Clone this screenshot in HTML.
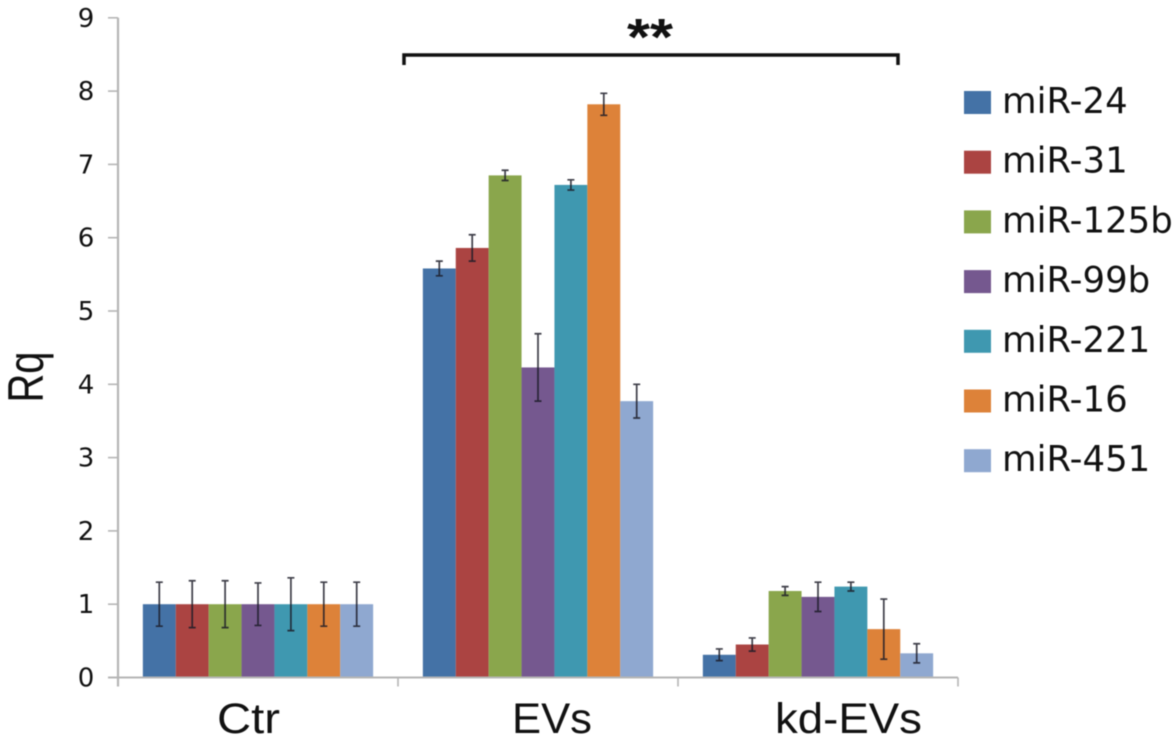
<!DOCTYPE html>
<html>
<head>
<meta charset="utf-8">
<style>
html,body{margin:0;padding:0;background:#fff;width:1173px;height:746px;overflow:hidden}
svg{display:block;position:absolute;left:0;top:0;filter:blur(0.4px)}
text{font-family:"Liberation Sans",sans-serif;fill:#111}
</style>
</head>
<body>
<svg id="chart" width="1173" height="746" viewBox="0 0 1173 746" xmlns="http://www.w3.org/2000/svg"></svg>
<script>
const categories = ['Ctr', 'EVs', 'kd-EVs'];
const seriesNames = ['miR-24', 'miR-31', 'miR-125b', 'miR-99b', 'miR-221', 'miR-16', 'miR-451'];
const seriesColors = ['#4472a6', '#ab4442', '#8aa64c', '#75588f', '#3f98b0', '#dd8239', '#8fa8d0'];
const yTicks = [0, 1, 2, 3, 4, 5, 6, 7, 8, 9];
const ctrValues = [1, 1, 1, 1, 1, 1, 1];
const evsValues = [5.58, 5.86, 6.85, 4.23, 6.72, 7.82, 3.77];
const kdValues = [0.31, 0.45, 1.18, 1.1, 1.24, 0.66, 0.33];
const ctrErrors = [0.3, 0.32, 0.32, 0.29, 0.36, 0.3, 0.3];
const evsErrors = [0.1, 0.18, 0.07, 0.46, 0.07, 0.15, 0.23];
const kdErrors = [0.08, 0.09, 0.06, 0.2, 0.06, 0.41, 0.13];

const groupValues = [ctrValues, evsValues, kdValues];
const groupErrors = [ctrErrors, evsErrors, kdErrors];
const NS = 'http://www.w3.org/2000/svg';
const svg = document.getElementById('chart');
const axisLeft = 118, axisRight = 958, y0 = 677.5, unit = 73.3, barW = 32.9;
const bandW = (axisRight - axisLeft) / categories.length;
function yPos(v) { return y0 - v * unit; }
function xBand(i) { return axisLeft + i * bandW; }
function xBar(g, s) { return xBand(g) + (bandW - barW * seriesNames.length) / 2 + s * barW; }
function make(tag, attrs, text) {
  const el = document.createElementNS(NS, tag);
  for (const k in attrs) el.setAttribute(k, attrs[k]);
  if (text !== undefined) el.textContent = text;
  svg.appendChild(el);
  return el;
}

groupValues.forEach(function (vals, g) {
  vals.forEach(function (v, s) {
    const bar = make('rect', { x: xBar(g, s), y: yPos(v), width: barW, height: y0 - yPos(v), fill: seriesColors[s] });
    
    
  });
});

const yAxis = make('line', { x1: axisLeft, x2: axisLeft, y1: yPos(9), y2: y0 + 9, stroke: '#b5b5b5', 'stroke-width': 2.2 });


const xAxis = make('line', { x1: axisLeft - 10, x2: axisRight, y1: y0, y2: y0, stroke: '#b5b5b5', 'stroke-width': 2 });



yTicks.forEach(function (t) {
  const tick = make('line', { x1: axisLeft - 10, x2: axisLeft, y1: yPos(t), y2: yPos(t), stroke: '#b5b5b5', 'stroke-width': 1.6 });
  
  
  const label = make('text', { x: 86, y: yPos(t) + 9, 'font-size': 26, 'text-anchor': 'middle', style: 'font-family:"DejaVu Sans",sans-serif' }, String(t));
  
  
});

for (let i = 1; i <= categories.length; i++) {
  const tick = make('line', { x1: xBand(i), x2: xBand(i), y1: y0, y2: y0 + 9, stroke: '#b5b5b5', 'stroke-width': 1.6 });
  
  
}

groupValues.forEach(function (vals, g) {
  vals.forEach(function (v, s) {
    const e = groupErrors[g][s];
    const cx = xBar(g, s) + barW / 2;
    const err = make('path', {
      d: 'M' + cx + ' ' + yPos(v + e) + 'V' + yPos(v - e) +
         'M' + (cx - 3.5) + ' ' + yPos(v + e) + 'h7' +
         'M' + (cx - 3.5) + ' ' + yPos(v - e) + 'h7',
      stroke: '#1c1c28', 'stroke-width': 1.7, fill: 'none', opacity: 0.85
    });
    
    
  });
});

const catCenters = [248.5, 552, 848.5];
const catWidths = [63, 80, 147];
categories.forEach(function (c, g) {
  const label = make('text', { x: catCenters[g], y: 733, 'font-size': 43, 'text-anchor': 'middle', textLength: catWidths[g], lengthAdjust: 'spacingAndGlyphs' }, c);
  
  
});

const yTitle = make('text', { x: 0, y: 0, 'font-size': 50, 'text-anchor': 'middle', textLength: 51, lengthAdjust: 'spacingAndGlyphs', transform: 'translate(43 377) rotate(-90)' }, 'Rq');



const bracket = make('path', { d: 'M404 65V55H898V65', stroke: '#111', 'stroke-width': 3.5, fill: 'none' });


const stars = make('text', { x: 650, y: 55, 'font-size': 52, 'font-weight': 'bold', 'text-anchor': 'middle', textLength: 46, lengthAdjust: 'spacingAndGlyphs' }, '**');



seriesNames.forEach(function (n, s) {
  const base = 113 + s * 59.7;
  const swatch = make('rect', { x: 964, y: base - 22, width: 27, height: 23, fill: seriesColors[s] });
  
  
  const label = make('text', { x: 1002, y: base, 'font-size': 35.5, style: 'font-family:"DejaVu Sans",sans-serif' }, n);
  
  
});
</script>
</body>
</html>
